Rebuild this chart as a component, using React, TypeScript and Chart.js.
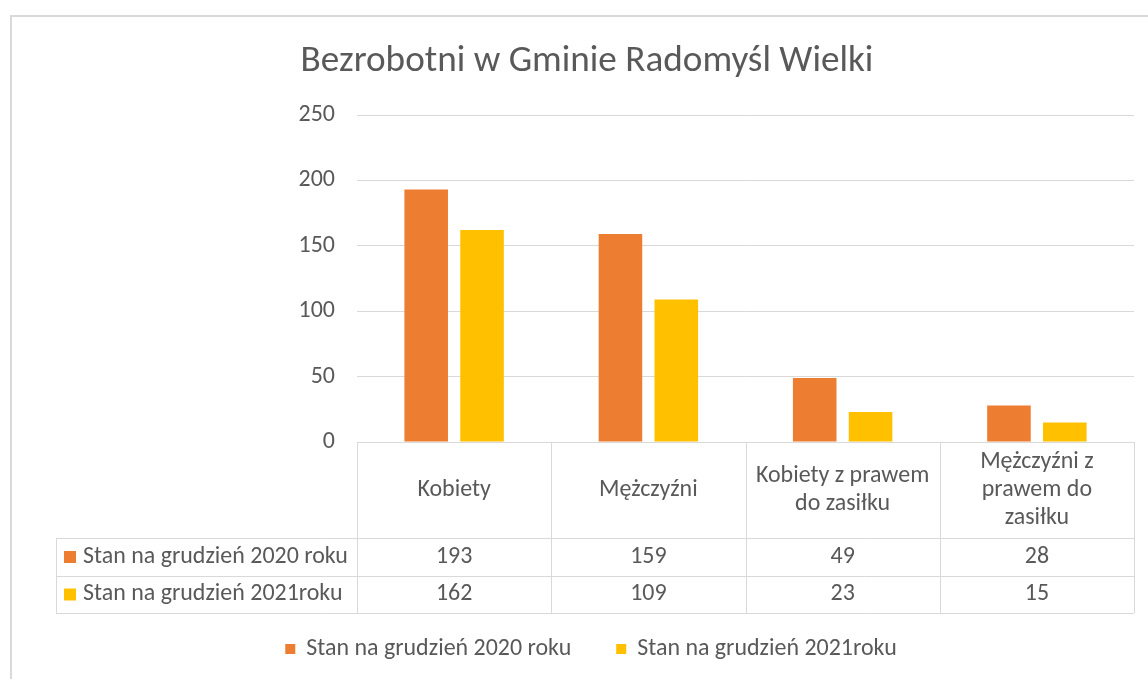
import React, { useEffect, useRef } from 'react';
import { Chart, registerables } from 'chart.js';

Chart.register(...registerables);

// ---------- data ----------
const TITLE = 'Bezrobotni w Gminie Radomyśl Wielki';
const categories: string[][] = [
  ['Kobiety'],
  ['Mężczyźni'],
  ['Kobiety z prawem', 'do zasiłku'],
  ['Mężczyźni z', 'prawem do', 'zasiłku'],
];
const seriesNames = ['Stan na grudzień 2020 roku', 'Stan na grudzień 2021roku'];
const values2020 = [193, 159, 49, 28];
const values2021 = [162, 109, 23, 15];
const yTicks = [0, 50, 100, 150, 200, 250];
const seriesColors = ['#ED7D31', '#FFC000'];

// ---------- style ----------
const FONT = 'Carlito, Lato, sans-serif';
const TEXT = '#595959';
const LINE = '#d9d9d9';

function fitSize(text: string, target: number): number {
  const c = document.createElement('canvas').getContext('2d')!;
  c.font = `100px ${FONT}`;
  return (100 * target) / c.measureText(text).width;
}

export default function App() {
  const ref = useRef<HTMLCanvasElement>(null);

  useEffect(() => {
    const canvas = ref.current!;
    const bodySize = Math.min(24, fitSize(seriesNames[0], 265));
    const titleSize = Math.min(38, fitSize(TITLE, 573));
    const bodyFont = `${bodySize}px ${FONT}`;

    const tablePlugin = {
      id: 'excelTable',
      beforeDraw(chart: any) {
        const ctx = chart.ctx as CanvasRenderingContext2D;
        ctx.save();
        ctx.fillStyle = '#ffffff';
        ctx.fillRect(0, 0, chart.width, chart.height);
        ctx.strokeStyle = LINE;
        ctx.lineWidth = 2;
        ctx.strokeRect(11, 16, chart.width + 40, chart.height + 40);
        ctx.fillStyle = TEXT;
        ctx.font = `${titleSize}px ${FONT}`;
        ctx.textAlign = 'center';
        ctx.textBaseline = 'alphabetic';
        ctx.fillText(TITLE, 587, 71);
        ctx.restore();
      },
      afterDraw(chart: any) {
        const ctx = chart.ctx as CanvasRenderingContext2D;
        const xs = chart.scales.x;
        const area = chart.chartArea;
        const n = chart.data.labels.length;
        const colW = (area.right - area.left) / n;
        const top = area.bottom;
        const r1 = 538;
        const r2 = 576;
        const bottom = xs.bottom;
        const labelLeft = 56;
        ctx.save();
        ctx.strokeStyle = LINE;
        ctx.lineWidth = 1;
        ctx.beginPath();
        // header top line
        ctx.moveTo(area.left, top + 0.5);
        ctx.lineTo(area.right, top + 0.5);
        [r1, r2, bottom].forEach((y) => {
          ctx.moveTo(labelLeft, Math.round(y) + 0.5);
          ctx.lineTo(area.right, Math.round(y) + 0.5);
        });
        for (let i = 0; i <= n; i++) {
          const x = Math.round(area.left + i * colW) + 0.5;
          ctx.moveTo(x, top);
          ctx.lineTo(x, bottom);
        }
        ctx.moveTo(labelLeft + 0.5, r1);
        ctx.lineTo(labelLeft + 0.5, bottom);
        ctx.stroke();

        ctx.fillStyle = TEXT;
        ctx.font = bodyFont;
        ctx.textBaseline = 'middle';
        ctx.textAlign = 'center';
        const lh = 28;
        const headMid = (top + r1) / 2;
        (chart.data.labels as string[][]).forEach((lines, i) => {
          const cx = xs.getPixelForValue(i);
          const y0 = headMid - ((lines.length - 1) * lh) / 2;
          lines.forEach((t, k) => ctx.fillText(t, cx, y0 + k * lh));
        });
        const rows = [
          [r1, r2],
          [r2, bottom],
        ];
        chart.data.datasets.forEach((ds: any, d: number) => {
          const mid = (rows[d][0] + rows[d][1]) / 2;
          ctx.fillStyle = ds.backgroundColor;
          ctx.fillRect(64, mid - 6, 12, 12);
          ctx.fillStyle = TEXT;
          ctx.textAlign = 'left';
          ctx.fillText(ds.label, 83, mid);
          ctx.textAlign = 'center';
          ds.data.forEach((v: number, i: number) => {
            ctx.fillText(String(v), xs.getPixelForValue(i), mid);
          });
        });

        // legend
        const sq = 10;
        const gap = 11;
        const itemGap = 45;
        const widths = chart.data.datasets.map((ds: any) => ctx.measureText(ds.label).width);
        const total = widths.reduce((a: number, w: number) => a + sq + gap + w, 0) + itemGap * (widths.length - 1);
        let x = 591 - total / 2;
        const ly = 649;
        chart.data.datasets.forEach((ds: any, d: number) => {
          ctx.fillStyle = ds.backgroundColor;
          ctx.fillRect(x, ly - sq / 2, sq, sq);
          x += sq + gap;
          ctx.fillStyle = TEXT;
          ctx.textAlign = 'left';
          ctx.fillText(ds.label, x, ly);
          x += widths[d] + itemGap;
        });
        ctx.restore();
      },
    };

    const chart = new Chart(canvas, {
      type: 'bar',
      data: {
        labels: categories,
        datasets: [
          {
            label: seriesNames[0],
            data: values2020,
            backgroundColor: seriesColors[0],
            borderWidth: 0,
            barPercentage: 0.78,
            categoryPercentage: 0.575,
          },
          {
            label: seriesNames[1],
            data: values2021,
            backgroundColor: seriesColors[1],
            borderWidth: 0,
            barPercentage: 0.78,
            categoryPercentage: 0.575,
          },
        ],
      },
      options: {
        responsive: false,
        animation: false,
        devicePixelRatio: 1,
        layout: { padding: { top: 115, right: 14, bottom: 66, left: 0 } },
        plugins: {
          legend: { display: false },
          title: { display: false },
          tooltip: { enabled: false },
        },
        scales: {
          x: {
            grid: { display: false },
            border: { display: false },
            ticks: { display: false },
            afterFit: (s: any) => {
              s.height = 171;
            },
          },
          y: {
            min: 0,
            max: 250,
            afterBuildTicks: (s: any) => {
              s.ticks = yTicks.map((v) => ({ value: v }));
            },
            ticks: { padding: 22, color: TEXT, font: { family: FONT, size: bodySize } },
            grid: { color: LINE, lineWidth: 1, drawTicks: false },
            border: { display: false },
            afterFit: (s: any) => {
              s.width = 357;
            },
          },
        },
      },
      plugins: [tablePlugin],
    } as any);
    return () => chart.destroy();
  }, []);

  return (
    <div style={{ position: 'absolute', left: 0, top: 0, width: 1148, height: 679 }}>
      <canvas ref={ref} width={1148} height={679} style={{ display: 'block' }} />
    </div>
  );
}
